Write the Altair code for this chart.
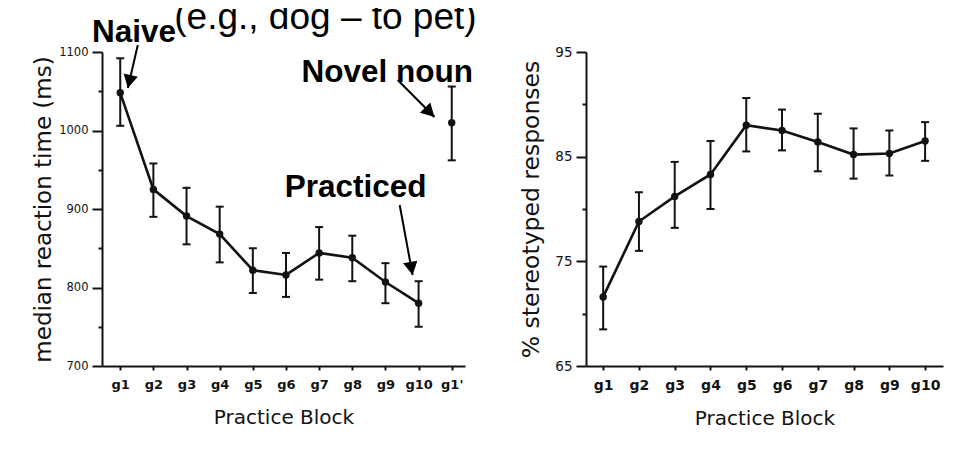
import json
import altair as alt
import pandas as pd

# ---------------- data ----------------
blocks_left = ["g1", "g2", "g3", "g4", "g5", "g6", "g7", "g8", "g9", "g10", "g1'"]
rt_mean = [1048, 925, 891, 868, 822, 816, 844, 838, 807, 780, 1010]
rt_hi = [1092, 958, 927, 903, 850, 844, 877, 866, 831, 808, 1056]
rt_lo = [1006, 890, 855, 832, 793, 788, 810, 808, 780, 750, 962]
rt_connected = [True] * 10 + [False]

blocks_right = ["g1", "g2", "g3", "g4", "g5", "g6", "g7", "g8", "g9", "g10"]
st_mean = [71.6, 78.8, 81.2, 83.3, 88.0, 87.5, 86.4, 85.2, 85.3, 86.5]
st_hi = [74.5, 81.6, 84.5, 86.5, 90.6, 89.5, 89.1, 87.7, 87.5, 88.3]
st_lo = [68.5, 76.0, 78.2, 80.0, 85.5, 85.6, 83.6, 82.9, 83.2, 84.6]

# annotations (left panel, data coordinates)
note_text = ["Naive", "Novel noun", "Practiced"]
note_x = [0.15, 6.47, 5.96]
note_y = [1112.7, 1061.8, 915.3]

sub_text = ["(e.g., dog \u2013 to pet)"]
sub_x = [2.63]
sub_y = [1129.5]

arrow_x = [1.53, 9.37, 9.43]
arrow_y = [1108.9, 1064.3, 905.1]
arrow_x2 = [1.23, 10.48, 9.82]
arrow_y2 = [1054.1, 1017.2, 815.9]
arrow_angle = [12.5, 315, 349.5]

# ---------------- frames ----------------
left_df = pd.DataFrame({"idx": list(range(1, len(blocks_left) + 1)), "block": blocks_left,
                        "mean": rt_mean, "hi": rt_hi, "lo": rt_lo, "conn": rt_connected})
right_df = pd.DataFrame({"idx": list(range(1, len(blocks_right) + 1)), "block": blocks_right,
                         "mean": st_mean, "hi": st_hi, "lo": st_lo, "conn": [True] * len(blocks_right)})
notes_df = pd.DataFrame({"text": note_text, "x": note_x, "y": note_y})
sub_df = pd.DataFrame({"text": sub_text, "x": sub_x, "y": sub_y})
arrows_df = pd.DataFrame({"x": arrow_x, "y": arrow_y, "x2": arrow_x2, "y2": arrow_y2, "angle": arrow_angle})

INK = "#121212"
SCAN_FONT = "DejaVu Sans"
HEAD = "M0,0 L-0.55,-1 L0.55,-1 Z"


def make_axes(labels, yvalues, major_test, ytitle, ytitle_size, ytitle_pad, xlabel_size, ylabel_size):
    label_expr = json.dumps(labels) + "[datum.value - 1]"
    xaxis = alt.Axis(values=list(range(1, len(labels) + 1)), labelExpr=label_expr,
                     title="Practice Block", grid=False, tickSize=4, labelPadding=8,
                     labelFont=SCAN_FONT, labelFontWeight="bold", labelFontSize=xlabel_size,
                     labelOverlap=False, labelFlush=False, labelBound=False,
                     titleFont=SCAN_FONT, titleFontWeight="normal", titleFontSize=20,
                     titlePadding=16)
    yaxis = alt.Axis(values=yvalues, grid=False, format="d",
                     labelExpr="(" + major_test + ") ? datum.label : ''",
                     tickSize={"condition": {"test": major_test, "value": 10}, "value": 4},
                     labelPadding=4, labelFont=SCAN_FONT, labelFontSize=ylabel_size,
                     labelOverlap=False,
                     title=ytitle, titleFont=SCAN_FONT, titleFontWeight="normal",
                     titleFontSize=ytitle_size, titlePadding=ytitle_pad)
    return xaxis, yaxis


def panel(df, xdomain, ydomain, xaxis, yaxis):
    xscale = alt.Scale(domain=xdomain, nice=False, zero=False)
    yscale = alt.Scale(domain=ydomain, nice=False, zero=False)
    base = alt.Chart(df)
    x = alt.X("idx:Q", scale=xscale, axis=xaxis)
    line = base.mark_line(color=INK, strokeWidth=2.6).encode(
        x=x, y=alt.Y("mean:Q", scale=yscale, axis=yaxis)).transform_filter("datum.conn")
    bars = base.mark_rule(color=INK, strokeWidth=2).encode(
        x=x, y=alt.Y("lo:Q", scale=yscale, axis=yaxis), y2="hi:Q")
    caps = base.transform_fold(["hi", "lo"], as_=["end", "val"]).mark_tick(
        color=INK, orient="horizontal", size=8, thickness=2, opacity=1).encode(
        x=x, y=alt.Y("val:Q", scale=yscale, axis=yaxis))
    pts = base.mark_circle(color=INK, size=55, opacity=1).encode(
        x=x, y=alt.Y("mean:Q", scale=yscale, axis=yaxis))
    return [line, bars, caps, pts], xscale, yscale


lx_axis, ly_axis = make_axes(blocks_left, list(range(700, 1101, 50)), "datum.value % 100 === 0",
                             "median reaction time (ms)", 23, 3, 13, 11.5)
left_layers, lxs, lys = panel(left_df, [0.45, 11.4], [700, 1100], lx_axis, ly_axis)

notes = alt.Chart(notes_df).mark_text(align="left", baseline="alphabetic", font="Liberation Sans",
                                      fontWeight="bold", fontSize=31.5, color="#000000").encode(
    x=alt.X("x:Q", scale=lxs, axis=lx_axis), y=alt.Y("y:Q", scale=lys, axis=ly_axis), text="text:N")
sub = alt.Chart(sub_df).mark_text(align="left", baseline="alphabetic", font="Liberation Sans",
                                  fontSize=37, color="#000000").encode(
    x=alt.X("x:Q", scale=lxs, axis=lx_axis), y=alt.Y("y:Q", scale=lys, axis=ly_axis), text="text:N")
shafts = alt.Chart(arrows_df).mark_rule(color="#000000", strokeWidth=2).encode(
    x=alt.X("x:Q", scale=lxs, axis=lx_axis), y=alt.Y("y:Q", scale=lys, axis=ly_axis),
    x2="x2:Q", y2="y2:Q")
heads = alt.Chart(arrows_df).mark_point(shape=HEAD, filled=True, color="#000000", opacity=1,
                                        size=700, strokeWidth=0).encode(
    x=alt.X("x2:Q", scale=lxs, axis=lx_axis), y=alt.Y("y2:Q", scale=lys, axis=ly_axis),
    angle=alt.Angle("angle:Q", scale=None))

left_full = alt.layer(*left_layers, shafts, heads, notes, sub).properties(width=363, height=314)

rx_axis, ry_axis = make_axes(blocks_right, list(range(65, 96, 5)), "(datum.value - 65) % 10 === 0",
                             "% stereotyped responses", 23.5, 11, 14, 13.5)
right_layers, _, _ = panel(right_df, [0.52, 10.5], [65, 95], rx_axis, ry_axis)
right = alt.layer(*right_layers).properties(width=357, height=314)

chart = alt.hconcat(left_full, right, spacing=42).properties(
    padding={"left": 24, "top": -10, "right": 5, "bottom": 5}
).configure_view(stroke=None).configure_axis(
    domainColor=INK, domainWidth=2, tickColor=INK, tickWidth=2,
    labelColor=INK, titleColor=INK
)

chart.save("out.html", embed_options={"renderer": "svg", "actions": False})
